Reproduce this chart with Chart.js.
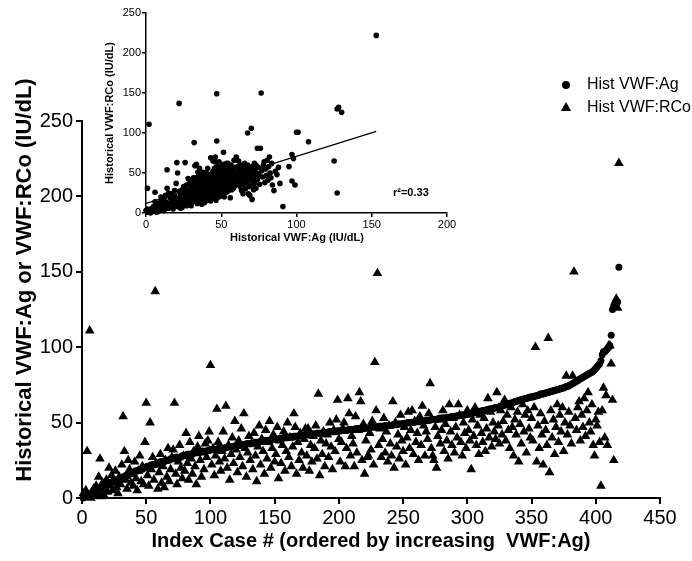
<!DOCTYPE html>
<html><head><meta charset="utf-8">
<script src="https://cdn.jsdelivr.net/npm/chart.js@4/dist/chart.umd.min.js"></script>
<style>
html,body{margin:0;padding:0;background:#fff;}
#wrap{position:relative;width:692px;height:561px;overflow:hidden;}
#main{position:absolute;left:0;top:0;}
#inset{position:absolute;left:95px;top:0;}
</style></head><body>
<div id="wrap"><canvas id="main" width="692" height="561"></canvas><canvas id="inset" width="370" height="250"></canvas></div>
<script>
// Historical VWF:Ag per index case, sorted increasing (case # 1..418)
const agValues = [
0,1,1,1,2,2,3,3,4,4,
5,5,6,6,7,7,8,8,9,9,
10,10,10,11,11,12,12,12,13,13,
13,14,14,15,15,15,16,16,17,17,
17,18,18,18,19,19,19,20,20,20.5,
21,21,21,22,22,22,22,23,23,23,
24,24,24,24,25,25,25,25,26,26,
26,26,27,27,27,27,27,28,28,28,
28,29,29,29,29,29,30,30,30,30,
30,30.5,31,31,31,31,31,31.5,31.5,32,
32,32,32,32,32.5,32.5,33,33,33,33,
33,33.5,33.5,34,34,34,34,34,34.5,34.5,
35,35,35,35,35,35.5,35.5,36,36,36,
36,36,36.5,36.5,37,37,37,37,37.5,37.5,
37.5,38,38,38,38,38,38.5,38.5,39,39,
39,39,39,39.5,39.5,39.5,40,40,40,40,
40.5,40.5,40.5,40.5,41,41,41,41,41,41.5,
41.5,41.5,41.5,42,42,42,42,42,42.5,42.5,
42.5,42.5,43,43,43,43,43,43.5,43.5,43.5,
43.5,44,44,44,44,44,44,44.5,44.5,44.5,
44.5,45,45,45,45,45,45,45.5,45.5,45.5,
45.5,45.5,46,46,46,46,46,46,46,46.5,
46.5,46.5,46.5,46.5,47,47,47,47,47,47,
47.5,47.5,47.5,47.5,47.5,48,48,48,48,48,
48,48.5,48.5,48.5,48.5,49,49,49,49,49,
49.5,49.5,49.5,50,50,50,50,50,50.5,50.5,
50.5,50.5,51,51,51,51,51,51.5,51.5,51.5,
51.5,52,52,52,52,52,52.5,52.5,52.5,53,
53,53,53,53,53.5,53.5,53.5,54,54,54,
54,54.5,54.5,54.5,55,55,55,55,55.5,55.5,
55.5,56,56,56,56.5,56.5,57,57,57,57.5,
57.5,58,58,58,58.5,58.5,59,59,59,59.5,
59.5,60,60,60,60.5,61,61,61.5,61.5,62,
62,62.5,62.5,63,63,63.5,64,64,64.5,64.5,
65,65,65.5,65.5,66,66,66.5,66.5,67,67,
67,67.5,67.5,68,68,68.5,69,69,69,69.5,
69.5,70,70,70.5,70.5,71,71,71.5,71.5,72,
72,72.5,72.5,73,73,73.5,74,74,74.5,75,
75.5,76,76.5,77,77.5,78,78.5,79,79.5,80,
80.5,81,81.5,82,82.5,83,83.5,84,85,86,
87,88,89,91,95,97,97,98,99,100,
101,108,125,127,127,128,130,153
];
// Historical VWF:RCo for the same index cases
const rcoValues = [
3,1,5,31,2,111,0,4,6,2,
8,3,14,26,1,10,2,6,12,4,
20,8,15,5,11,18,7,3,14,9,
22,54,31,12,6,25,19,10,16,8,
24,13,5,18,28,11,21,9,37,63,
15,8,50,19,27,12,137,22,6,17,
29,10,21,7,25,14,33,11,19,27,
32,63,16,9,24,35,20,13,28,18,
43,23,12,37,26,16,31,21,9,34,
41,25,14,30,19,36,27,38,44,88,
22,33,15,28,59,37,24,18,31,44,
26,61,20,35,12,29,40,23,51,32,
17,38,27,46,21,56,33,14,30,41,
25,36,19,43,28,11,34,48,22,39,
31,16,45,26,37,51,20,33,42,24,
29,47,13,38,23,35,44,18,31,50,
27,40,21,34,56,47,16,37,25,43,
30,20,39,46,28,46,18,35,24,41,
33,48,26,69,15,38,29,44,21,36,
42,27,50,34,19,45,31,52,65,39,
24,37,46,50,21,33,66,56,28,41,
36,21,54,30,45,70,64,25,49,16,
38,27,28,43,32,51,22,90,58,149,
35,46,27,39,53,30,44,24,48,36,
28,64,20,50,34,42,26,55,38,31,
47,22,40,57,33,45,58,29,51,37,
43,25,54,35,61,48,28,44,39,56,
76,33,28,25,47,20,41,52,36,45,
58,31,49,38,26,62,44,35,53,30,
47,40,62,55,37,28,50,43,33,58,
45,38,19,52,41,60,35,48,29,55,
43,37,53,31,46,66,40,57,34,50,
44,39,70,48,36,58,42,51,65,38,
55,45,33,60,47,28,52,42,57,24,
49,36,62,44,55,30,58,46,40,53,
38,60,100,24,48,33,56,42,22,51,
45,35,106,17,58,40,52,29,47,62,
37,55,44,60,31,50,81,42,57,48,
36,81,150,53,45,60,64,38,55,47,
66,41,58,70,50,44,62,35,28,52,
48,57,37,8,58,73,40,68,35,101,
101,89,65,25,130,132,126,222
];
const caseNumbers = agValues.map((_, i) => i + 1);
const seriesLabels = ['Hist VWF:Ag', 'Hist VWF:RCo'];
const mainXTicks = [0,50,100,150,200,250,300,350,400,450];
const mainYTicks = [0,50,100,150,200,250];
const insetXTicks = [0,50,100,150,200];
const insetYTicks = [0,50,100,150,200,250];
// regression line endpoints (Ag, RCo) and r^2 label
const fitAg = [0, 153];
const fitRCo = [12, 102];
const rSquaredText = 'r\u00B2=0.33';

const FONT = '"Liberation Sans", Arial, Helvetica, sans-serif';

const textPlugin = {
  id: 'texts',
  afterDraw(chart, args, opts) {
    const ctx = chart.ctx;
    (opts.items || []).forEach(t => {
      ctx.save();
      ctx.font = t.font;
      ctx.fillStyle = '#000';
      ctx.textAlign = t.align || 'center';
      ctx.textBaseline = 'middle';
      let x = t.x, y = t.y;
      if (t.dataX !== undefined) {
        x = chart.scales.x.getPixelForValue(t.dataX);
        y = chart.scales.y.getPixelForValue(t.dataY);
      }
      ctx.translate(x, y);
      if (t.rot) ctx.rotate(t.rot);
      ctx.fillText(t.text, 0, 0);
      ctx.restore();
    });
  }
};

const legendPlugin = {
  id: 'customLegend',
  afterDraw(chart, args, opts) {
    const ctx = chart.ctx;
    chart.data.datasets.forEach((ds, i) => {
      const mx = opts.x, my = opts.y + i * opts.gap;
      ctx.save();
      ctx.fillStyle = '#000';
      ctx.beginPath();
      if (ds.pointStyle === 'triangle') {
        const r = opts.triR;
        ctx.moveTo(mx, my - r);
        ctx.lineTo(mx + r * Math.sin(Math.PI * 2 / 3), my + r * 0.5);
        ctx.lineTo(mx - r * Math.sin(Math.PI * 2 / 3), my + r * 0.5);
        ctx.closePath();
      } else {
        ctx.arc(mx, my, opts.circR, 0, Math.PI * 2);
      }
      ctx.fill();
      ctx.font = opts.font;
      ctx.textAlign = 'left';
      ctx.textBaseline = 'middle';
      ctx.fillText(ds.label, opts.textX, my);
      ctx.restore();
    });
  }
};

function axisCommon(ticks, fontSize, tickLen, lw, pad) {
  return {
    type: 'linear',
    min: ticks[0], max: ticks[ticks.length - 1],
    afterBuildTicks: s => { s.ticks = ticks.map(v => ({ value: v })); },
    grid: { drawOnChartArea: false, drawTicks: true, tickLength: tickLen, color: '#000', lineWidth: lw },
    border: { display: true, color: '#000', width: lw },
    ticks: { color: '#000', font: { family: FONT, size: fontSize }, padding: pad, maxRotation: 0, autoSkip: false }
  };
}

// ---------- main chart ----------
const mainX = axisCommon(mainXTicks, 20, 6, 2, 2);
mainX.afterFit = s => { s.height = 63; };
const mainY = axisCommon(mainYTicks, 20, 6, 2, 3);
mainY.afterFit = s => { s.width = 82; };

new Chart(document.getElementById('main'), {
  type: 'scatter',
  data: {
    datasets: [
      {
        label: seriesLabels[0],
        data: caseNumbers.map((c, i) => ({ x: c, y: agValues[i] })),
        pointStyle: 'circle', pointRadius: 3.5, backgroundColor: '#000', borderWidth: 0, clip: false
      },
      {
        label: seriesLabels[1],
        data: caseNumbers.map((c, i) => ({ x: c, y: rcoValues[i] })),
        pointStyle: 'triangle', pointRadius: 5.6, backgroundColor: '#000', borderWidth: 0, clip: false
      }
    ]
  },
  options: {
    responsive: false, animation: false, events: [],
    layout: { padding: { left: 0, top: 121, right: 32, bottom: 0 } },
    scales: { x: mainX, y: mainY },
    plugins: {
      legend: { display: false }, tooltip: { enabled: false },
      customLegend: { x: 566, y: 85, gap: 23, textX: 587, font: '16px ' + FONT, circR: 4, triR: 6 },
      texts: { items: [
        { text: 'Historical VWF:Ag or VWF:RCo (IU/dL)', x: 25, y: 280, rot: -Math.PI / 2, font: 'bold 22px ' + FONT },
        { text: 'Index Case # (ordered by increasing  VWF:Ag)', x: 371, y: 541, font: 'bold 20px ' + FONT }
      ] }
    }
  },
  plugins: [textPlugin, legendPlugin]
});

// ---------- inset chart ----------
const inX = axisCommon(insetXTicks, 11, 4, 1.5, 1);
inX.afterFit = s => { s.height = 37; };
const inY = axisCommon(insetYTicks, 11, 4, 1.5, 1);
inY.afterFit = s => { s.width = 51; };

new Chart(document.getElementById('inset'), {
  type: 'scatter',
  data: {
    datasets: [
      {
        label: 'pairs',
        data: agValues.map((a, i) => ({ x: a, y: rcoValues[i] })),
        pointStyle: 'circle', pointRadius: 2.8, backgroundColor: '#000', borderWidth: 0, clip: false
      },
      {
        label: 'fit', type: 'line',
        data: fitAg.map((a, i) => ({ x: a, y: fitRCo[i] })),
        showLine: true, borderColor: '#000', borderWidth: 1.2, pointRadius: 0, fill: false
      }
    ]
  },
  options: {
    responsive: false, animation: false, events: [],
    layout: { padding: { left: 0, top: 13, right: 18, bottom: 0 } },
    scales: { x: inX, y: inY },
    plugins: {
      legend: { display: false }, tooltip: { enabled: false },
      texts: { items: [
        { text: 'Historical VWF:RCo (IU/dL)', x: 15, y: 113, rot: -Math.PI / 2, font: 'bold 11px ' + FONT },
        { text: 'Historical VWF:Ag (IU/dL)', x: 202, y: 238, font: 'bold 11px ' + FONT },
        { text: rSquaredText, dataX: 176, dataY: 25, font: 'bold 11px ' + FONT }
      ] }
    }
  },
  plugins: [textPlugin]
});
</script>
</body></html>
